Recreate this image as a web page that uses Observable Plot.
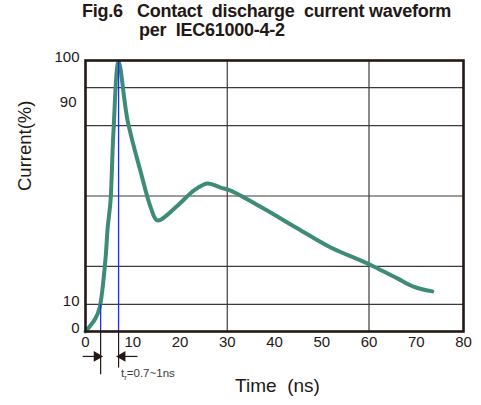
<!DOCTYPE html>
<html>
<head>
<meta charset="utf-8">
<script src="https://cdn.jsdelivr.net/npm/d3@7"></script>
<script src="https://cdn.jsdelivr.net/npm/@observablehq/plot@0.6"></script>
<style>
  html, body { margin: 0; padding: 0; background: #fff; }
  #wrap { position: relative; width: 481px; height: 405px; font-family: "Liberation Sans", Arial, sans-serif; }
  #title { position: absolute; left: 82px; top: 2px; font-weight: bold; font-size: 18px; line-height: 19px; color: #231815; white-space: pre; letter-spacing: -0.25px; }
  #title .l2 { padding-left: 57px; }
  #wrap svg { position: absolute; left: 0; top: 0; }
</style>
</head>
<body>
<div id="wrap"><div id="title">Fig.6   Contact  discharge  current waveform<br><span class="l2">per  IEC61000-4-2</span></div></div>
<script>
// Waveform (time ns, current %)
const timeNs = [0, 0.2, 2.1, 3.0, 4.2, 4.7, 5.3, 5.9, 7.0, 8.9, 11.6, 13.8, 15.2, 19.5, 22.9, 25.8, 28.6, 30.7, 37.7, 44.9, 51.9, 58.8, 61.0, 66.0, 69.4, 73.4];
const currentPct = [0, 0.4, 4.8, 8.9, 26.2, 38.4, 48.3, 73.1, 99.5, 77.9, 59.4, 45.8, 41.0, 46.5, 52.0, 54.6, 53.1, 52.0, 45.4, 38.0, 31.0, 25.8, 24.0, 19.6, 16.6, 14.8];

const xTicks = [0, 10, 20, 30, 40, 50, 60, 70, 80];
const yTicksMain = [0, 10, 100];
const yTick90 = [90];
const xGrid = [30, 60];
const yGrid = [10, 24, 50, 76, 90];

// rise time markers
const riseStart = 3.2;   // 10% crossing
const risePeak = 7.0;    // peak
const riseLabel = "tr=0.7~1ns";

const wave = timeNs.map((t, i) => ({t, c: currentPct[i]}));

const ink = "#231815";
const teal = "#3e8b78";
const blue = "#1b2cf5";

const plot = Plot.plot({
  width: 481,
  height: 405,
  marginLeft: 85,
  marginRight: 18,
  marginTop: 60,
  marginBottom: 74,
  style: {fontFamily: "'Liberation Sans', Arial, sans-serif", background: "transparent", color: ink},
  x: {domain: [0, 80], label: null},
  y: {domain: [0, 100], label: null},
  marks: [
    Plot.ruleX(xGrid, {stroke: "#3e3a39", strokeWidth: 1.2}),
    Plot.ruleY(yGrid, {stroke: "#3e3a39", strokeWidth: 1.2}),
    Plot.line(wave, {x: "t", y: "c", stroke: teal, strokeWidth: 4, curve: "catmull-rom", strokeLinejoin: "miter", strokeMiterlimit: 6}),
    Plot.ruleX([riseStart], {y1: 0, y2: 10, stroke: blue, strokeWidth: 1.3}),
    Plot.ruleX([risePeak], {y1: 0, y2: 100, stroke: blue, strokeWidth: 1.3}),
    Plot.frame({stroke: ink, strokeWidth: 2.6}),
    // annotation below the axis
    Plot.ruleX([riseStart], {y1: 0, y2: -16, stroke: ink, strokeWidth: 1.2, clip: false}),
    Plot.ruleX([risePeak], {y1: 0, y2: -13.5, stroke: ink, strokeWidth: 1.2, clip: false}),
    Plot.link([{x1: -0.6, x2: riseStart - 0.6}, {x1: 11.0, x2: risePeak + 0.6}], {x1: "x1", x2: "x2", y1: -9.2, y2: -9.2, stroke: ink, strokeWidth: 1.2, clip: false}),
    Plot.dot([{x: riseStart - 0.8, r: 90}, {x: risePeak + 0.8, r: -90}], {x: "x", y: -9.2, symbol: "triangle", rotate: "r", r: 4, fill: ink, stroke: "none", clip: false}),
    Plot.text([riseLabel], {x: risePeak + 0.5, y: -15.3, text: d => d, textAnchor: "start", fontSize: 11.5, fill: "#3e3a39", className: "trlabel"}),
    // axes
    Plot.axisX(xTicks, {tickSize: 0, tickPadding: 5, fontSize: 15, fill: ink}),
    Plot.axisY(yTicksMain, {tickSize: 0, tickPadding: 6, fontSize: 15, dy: -3, fill: ink}),
    Plot.axisY(yTick90, {tickSize: 0, tickPadding: 9, fontSize: 15, dy: 15, fill: ink}),
    Plot.text(["Current(%)"], {frameAnchor: "left", dx: -60, dy: -5, rotate: -90, fontSize: 18.5, fill: ink, text: d => d}),
    Plot.text(["Time  (ns)"], {frameAnchor: "bottom", dx: 3, dy: 60, fontSize: 19, fill: ink, text: d => d})
  ]
});

// subscript r in the rise-time label
d3.select(plot).selectAll(".trlabel text").each(function() {
  const el = d3.select(this);
  const s = el.text();
  el.text(null);
  el.append("tspan").text(s[0]);
  el.append("tspan").attr("font-size", 8).attr("dy", 3).text(s[1]);
  el.append("tspan").attr("dy", -3).text(s.slice(2));
});

document.getElementById("wrap").prepend(plot);
</script>
</body>
</html>
